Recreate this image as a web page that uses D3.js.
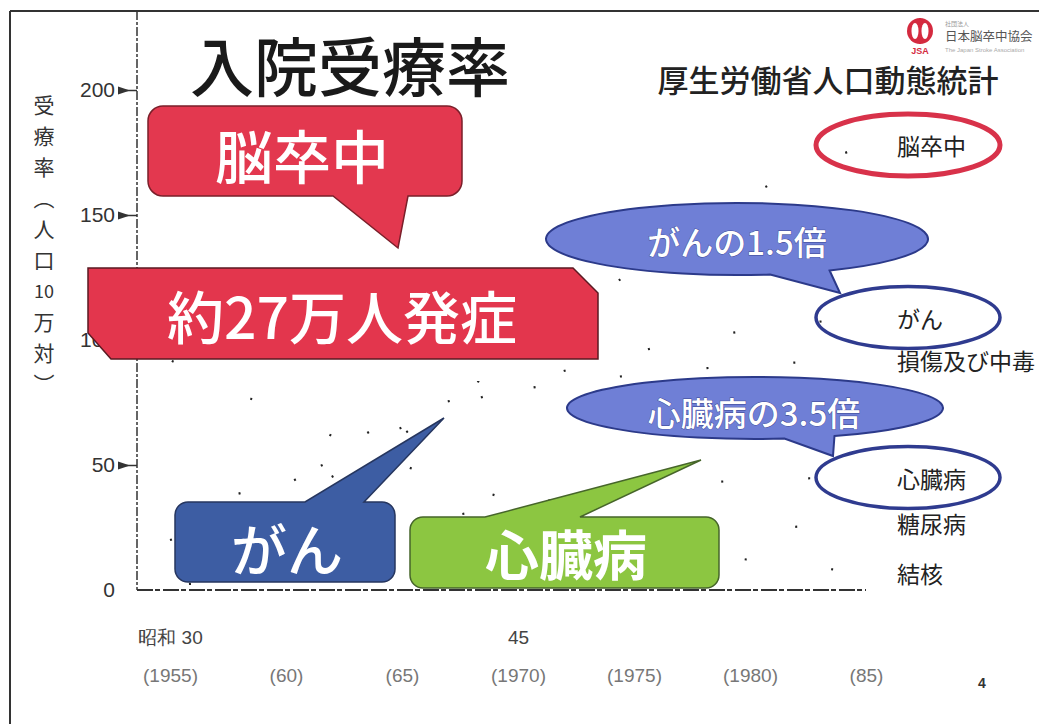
<!DOCTYPE html>
<html>
<head>
<meta charset="utf-8">
<script src="https://cdn.jsdelivr.net/npm/d3@7"></script>
<style>
body { margin: 0; background: #fff; }
svg { display: block; font-family: "Noto Sans CJK JP", "Noto Sans", sans-serif; }
</style>
</head>
<body>
<svg width="1039" height="724"></svg>
<script>
var years = [1955, 1960, 1965, 1970, 1975, 1980, 1985];
var strokeRate   = [20, 36, 62, 95, 128, 158, 178];
var cancerRate   = [33, 44, 65, 82, 95, 104, 109];
var injuryRate   = [18, 42, 70, 80, 86, 90, 92];
var heartRate    = [10, 16, 26, 34, 40, 44, 45];
var diabetesRate = [2, 5, 10, 15, 20, 24, 27];
var tbRate       = [92, 70, 50, 35, 20, 12, 7];

var seriesNames = ["脳卒中", "がん", "損傷及び中毒", "心臓病", "糖尿病", "結核"];
var seriesValues = [strokeRate, cancerRate, injuryRate, heartRate, diabetesRate, tbRate];
var circled = ["脳卒中", "がん", "心臓病"];

var yTicks = [0, 50, 100, 150, 200];
var xTopLabels = ["昭和 30", "", "", "45", "", "", ""];
var xBottomLabels = ["(1955)", "(60)", "(65)", "(1970)", "(1975)", "(1980)", "(85)"];
var yTitle = ["受", "療", "率", "︵", "人", "口", "10", "万", "対", "︶"];

var svg = d3.select("svg");

var x = d3.scaleLinear().domain([1955, 1985]).range([170, 866]);
var y = d3.scaleLinear().domain([0, 200]).range([590, 90]);

// slide frame
svg.append("line").attr("x1", 10).attr("y1", 11).attr("x2", 1039).attr("y2", 11)
    .attr("stroke", "#333").attr("stroke-width", 2);
svg.append("line").attr("x1", 10).attr("y1", 11).attr("x2", 10).attr("y2", 724)
    .attr("stroke", "#333").attr("stroke-width", 2);

// series lines (only scattered specks survived in the scan)
var line = d3.line()
    .x(function (d, i) { return x(years[i]); })
    .y(function (d) { return y(d); })
    .curve(d3.curveMonotoneX);

svg.selectAll(".series")
    .data(seriesValues)
    .enter().append("path")
    .attr("class", "series")
    .attr("d", line)
    .attr("fill", "none")
    .attr("stroke", "#222")
    .attr("stroke-width", 2.2)
    .attr("stroke-dasharray", "2,85")
    .attr("stroke-dashoffset", function (d, i) { return i * 17; });

// y axis
svg.append("line").attr("x1", 137).attr("y1", 11).attr("x2", 137).attr("y2", 590)
    .attr("stroke", "#333").attr("stroke-width", 1.5).attr("stroke-dasharray", "9,2,3,2");

var yAxis = svg.append("g")
    .attr("transform", "translate(137,0)")
    .call(d3.axisLeft(y).tickValues(yTicks).tickSize(18).tickPadding(4));
yAxis.select(".domain").remove();
yAxis.selectAll(".tick text")
    .attr("font-family", "Liberation Sans, Arial, sans-serif")
    .attr("font-size", 21)
    .attr("fill", "#333");
yAxis.selectAll(".tick line").attr("stroke", "#333").attr("stroke-width", 1.5);
yAxis.selectAll(".tick").filter(function (d) { return d > 0; })
    .append("path").attr("d", "M-19,-4L-7,0L-19,4Z").attr("fill", "#333");
yAxis.selectAll(".tick").filter(function (d) { return d === 0; }).select("line").remove();

// y title, vertical
svg.selectAll(".ytitle")
    .data(yTitle)
    .enter().append("text")
    .attr("x", 44)
    .attr("y", function (d, i) { return 104 + i * 31; })
    .attr("text-anchor", "middle")
    .attr("dominant-baseline", "central")
    .attr("font-size", function (d) { return d === "10" ? 18 : 21; })
    .attr("fill", "#333")
    .text(function (d) { return d; });

// x axis
svg.append("line").attr("x1", 137).attr("y1", 590).attr("x2", 866).attr("y2", 590)
    .attr("stroke", "#333").attr("stroke-width", 2).attr("stroke-dasharray", "16,2,5,3");

var xAxis = svg.append("g")
    .attr("transform", "translate(0,590)")
    .call(d3.axisBottom(x).tickValues(years).tickSize(0).tickPadding(41)
        .tickFormat(function (d, i) { return xTopLabels[i]; }));
xAxis.select(".domain").remove();
xAxis.selectAll(".tick text").attr("font-size", 19).attr("fill", "#444");
xAxis.selectAll(".tick").append("text")
    .attr("y", 79)
    .attr("dy", "0.71em")
    .attr("font-size", 19)
    .attr("fill", "#777")
    .text(function (d, i) { return xBottomLabels[i]; });

// series end labels (legend)
var lastX = x(years[years.length - 1]);
svg.selectAll(".lbl")
    .data(seriesNames)
    .enter().append("text")
    .attr("x", lastX + 31)
    .attr("y", function (d, i) { return y(seriesValues[i][seriesValues[i].length - 1]); })
    .attr("dominant-baseline", "central")
    .attr("font-size", 23)
    .attr("fill", "#222")
    .text(function (d) { return d; });

svg.selectAll(".ring")
    .data(circled)
    .enter().append("ellipse")
    .attr("cx", lastX + 42)
    .attr("cy", function (d) {
        var i = seriesNames.indexOf(d);
        return y(seriesValues[i][seriesValues[i].length - 1]);
    })
    .attr("rx", 92)
    .attr("ry", 31)
    .attr("fill", "none")
    .attr("stroke", function (d) { return d === "脳卒中" ? "#d8324a" : "#2f3b8f"; })
    .attr("stroke-width", function (d) { return d === "脳卒中" ? 5 : 3.5; });

// callout helpers
function boxPath(bx, by, w, h, r, side, t1, t2, tip) {
    var p = d3.path();
    p.moveTo(bx + r, by);
    if (side === "top") { p.lineTo(t1, by); p.lineTo(tip[0], tip[1]); p.lineTo(t2, by); }
    p.arcTo(bx + w, by, bx + w, by + h, r);
    p.arcTo(bx + w, by + h, bx, by + h, r);
    if (side === "bottom") { p.lineTo(t2, by + h); p.lineTo(tip[0], tip[1]); p.lineTo(t1, by + h); }
    p.arcTo(bx, by + h, bx, by, r);
    p.arcTo(bx, by, bx + w, by, r);
    p.closePath();
    return p.toString();
}

function ovalPath(cx, cy, rx, ry, a1, a2, tip) {
    var r1 = a1 * Math.PI / 180, r2 = a2 * Math.PI / 180;
    var p1 = [cx + rx * Math.cos(r1), cy + ry * Math.sin(r1)];
    var p2 = [cx + rx * Math.cos(r2), cy + ry * Math.sin(r2)];
    return "M" + p1 + "A" + rx + "," + ry + " 0 1 1 " + p2 + "L" + tip + "Z";
}

// red callout 脳卒中
svg.append("path")
    .attr("d", boxPath(148, 106, 314, 90, 15, "bottom", 333, 408, [398, 248]))
    .attr("fill", "#e3384f").attr("stroke", "#7a1f2a").attr("stroke-width", 1.5);
svg.append("text").attr("x", 302).attr("y", 154)
    .attr("text-anchor", "middle").attr("dominant-baseline", "central")
    .attr("font-size", 58).attr("font-weight", 500).attr("fill", "#fff")
    .text("脳卒中");

// red banner 約27万人発症
svg.append("path")
    .attr("d", "M88,268L573,268L598,293L598,359L111,359L88,333Z")
    .attr("fill", "#e3364d").attr("stroke", "#5a1a22").attr("stroke-width", 1.5);
svg.append("text").attr("x", 342).attr("y", 314)
    .attr("text-anchor", "middle").attr("dominant-baseline", "central")
    .attr("font-size", 57).attr("font-weight", 500).attr("fill", "#fff")
    .text("約27万人発症");

// blue ovals
svg.append("path")
    .attr("d", ovalPath(737, 239, 191, 36, 80, 61, [840, 293]))
    .attr("fill", "#6f7fd6").attr("stroke", "#2c3a8a").attr("stroke-width", 2);
svg.append("text").attr("x", 737).attr("y", 241)
    .attr("text-anchor", "middle").attr("dominant-baseline", "central")
    .attr("font-size", 33).attr("font-weight", 500).attr("fill", "#fff")
    .attr("stroke", "#3a4590").attr("stroke-width", 0.8).attr("paint-order", "stroke")
    .text("がんの1.5倍");

svg.append("path")
    .attr("d", ovalPath(755, 408, 188, 31, 81, 65, [833, 456]))
    .attr("fill", "#6f7fd6").attr("stroke", "#2c3a8a").attr("stroke-width", 2);
svg.append("text").attr("x", 754).attr("y", 412)
    .attr("text-anchor", "middle").attr("dominant-baseline", "central")
    .attr("font-size", 33).attr("font-weight", 500).attr("fill", "#fff")
    .attr("stroke", "#3a4590").attr("stroke-width", 0.8).attr("paint-order", "stroke")
    .text("心臓病の3.5倍");

// blue box がん
svg.append("path")
    .attr("d", boxPath(175, 502, 220, 80, 13, "top", 305, 364, [444, 418]))
    .attr("fill", "#3d5da3").attr("stroke", "#26365f").attr("stroke-width", 1.5);
svg.append("text").attr("x", 287).attr("y", 546)
    .attr("text-anchor", "middle").attr("dominant-baseline", "central")
    .attr("font-size", 56).attr("font-weight", 500).attr("fill", "#fff")
    .text("がん");

// green box 心臓病
svg.append("path")
    .attr("d", boxPath(410, 517, 309, 71, 13, "top", 485, 580, [701, 460]))
    .attr("fill", "#8cc641").attr("stroke", "#46652a").attr("stroke-width", 1.5);
svg.append("text").attr("x", 566).attr("y", 552)
    .attr("text-anchor", "middle").attr("dominant-baseline", "central")
    .attr("font-size", 54).attr("font-weight", 700).attr("fill", "#fff")
    .text("心臓病");

// titles
svg.append("text").attr("x", 350).attr("y", 63)
    .attr("text-anchor", "middle").attr("dominant-baseline", "central")
    .attr("font-size", 64).attr("font-weight", 500).attr("fill", "#1a1a1a")
    .text("入院受療率");
svg.append("text").attr("x", 828).attr("y", 78)
    .attr("text-anchor", "middle").attr("dominant-baseline", "central")
    .attr("font-size", 31).attr("font-weight", 500).attr("fill", "#222")
    .text("厚生労働省人口動態統計");

// logo
var logo = svg.append("g").attr("transform", "translate(920,31)");
logo.append("circle").attr("r", 13).attr("fill", "#d42a3f");
logo.append("ellipse").attr("cx", -5).attr("rx", 3.5).attr("ry", 8).attr("fill", "#fff");
logo.append("ellipse").attr("cx", 5).attr("rx", 3.5).attr("ry", 8).attr("fill", "#fff");
logo.append("line").attr("y1", -13).attr("y2", 13).attr("stroke", "#d42a3f").attr("stroke-width", 2);
svg.append("text").attr("x", 920).attr("y", 54).attr("text-anchor", "middle")
    .attr("font-family", "Liberation Sans, Arial").attr("font-size", 9).attr("font-weight", 700)
    .attr("fill", "#d42a3f").text("JSA");
svg.append("text").attr("x", 945).attr("y", 26).attr("font-size", 6).attr("fill", "#999").text("社団法人");
svg.append("text").attr("x", 945).attr("y", 41).attr("font-size", 12.5).attr("fill", "#555").text("日本脳卒中協会");
svg.append("text").attr("x", 945).attr("y", 52).attr("font-family", "Liberation Sans, Arial")
    .attr("font-size", 6).attr("fill", "#aaa").text("The Japan Stroke Association");

// page number
svg.append("text").attr("x", 982).attr("y", 688).attr("text-anchor", "middle")
    .attr("font-family", "Liberation Sans, Arial").attr("font-size", 14).attr("font-weight", 700)
    .attr("fill", "#333").text("4");
</script>
</body>
</html>
